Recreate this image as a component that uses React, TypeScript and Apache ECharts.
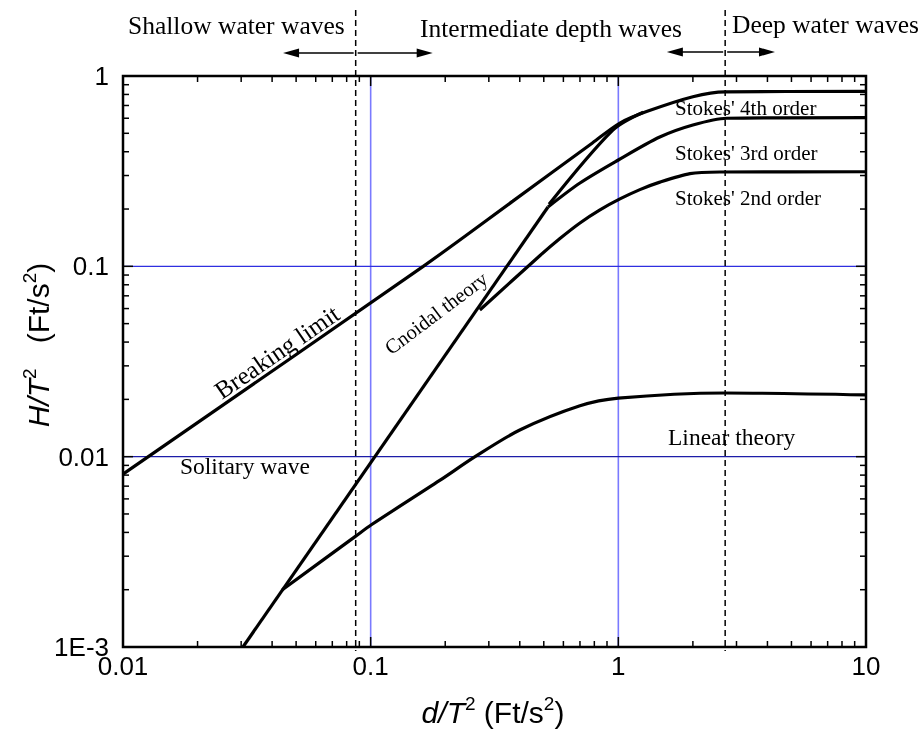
import React, { useEffect, useRef } from "react";
import * as echarts from "echarts";

// ---- axis tick labels ----
const xTickLabels = ["0.01", "0.1", "1", "10"];
const yTickLabels = ["1E-3", "0.01", "0.1", "1"];

// ---- curves [d/T^2, H/T^2] ----
const breakingLimit = [
  [0.01, 0.0081], [0.163, 0.1], [0.375, 0.22], [0.786, 0.445],
  [1.015, 0.566], [1.3, 0.65], [2.0, 0.778], [2.7, 0.826], [10, 0.83],
];
const cnoidalLower = [[0.0305, 0.001], [0.52, 0.205]];
const cnoidalUpper = [[0.525, 0.212], [0.95, 0.52], [1.26, 0.645]];
const stokes3 = [
  [0.52, 0.205], [0.7, 0.274], [1.0, 0.362], [1.47, 0.478], [2.0, 0.553], [2.74, 0.6], [10, 0.605],
];
const stokes2 = [
  [0.276, 0.059], [0.483, 0.114], [0.581, 0.14], [0.7, 0.169], [0.843, 0.198], [1.015, 0.226],
  [1.222, 0.253], [1.472, 0.277], [1.946, 0.307], [2.57, 0.313], [10, 0.314],
];
const linearCurve = [
  [0.044, 0.002], [0.0865, 0.0038], [0.101, 0.0044], [0.19, 0.0075], [0.264, 0.01], [0.4, 0.0138],
  [0.7, 0.0185], [1.0, 0.0203], [2.7, 0.0216], [10, 0.0211],
];

// ---- annotations ----
const regionBoundaries = [0.087, 2.7];
const shallowArrows = [[0.087, 0.0443], [0.087, 0.178]];
const deepArrows = [[2.7, 1.57], [2.7, 4.29]];
const xGridValues = [0.1, 1];
const yGridValues = [0.1, 0.01];

const serif = "Liberation Serif";
const sans = "Liberation Sans";

export default function App() {
  const ref = useRef<HTMLDivElement>(null);
  useEffect(() => {
    const chart = echarts.init(ref.current!, null, { renderer: "svg" });
    const line = (name: string, data: number[][], smooth: number) => ({
      type: "line",
      name,
      data,
      symbol: "none",
      smooth,
      clip: false,
      z: 3,
      lineStyle: { color: "#000", width: 3.2 },
    });
    const fmtX = (v: number) => xTickLabels[Math.round(Math.log10(v)) + 2];
    const fmtY = (v: number) => yTickLabels[Math.round(Math.log10(v)) + 3];
    chart.setOption({
      animation: false,
      grid: { left: 123, right: 58, top: 76, bottom: 93 },
      xAxis: {
        type: "log", logBase: 10, min: 0.01, max: 10,
        axisLine: { show: false }, axisTick: { show: false }, splitLine: { show: false },
        axisLabel: { formatter: fmtX, fontFamily: sans, fontSize: 26, color: "#000", margin: 6, showMinLabel: true, showMaxLabel: true },
      },
      yAxis: {
        type: "log", logBase: 10, min: 0.001, max: 1,
        axisLine: { show: false }, axisTick: { show: false }, splitLine: { show: false },
        axisLabel: { formatter: fmtY, fontFamily: sans, fontSize: 26, color: "#000", margin: 14, showMinLabel: true, showMaxLabel: true },
      },
      series: [
        line("Breaking limit", breakingLimit, 0.3),
        line("Cnoidal theory", cnoidalLower, 0),
        line("Cnoidal upper", cnoidalUpper, 0.3),
        line("Stokes' 3rd order", stokes3, 0.3),
        line("Stokes' 2nd order", stokes2, 0.25),
        line("Linear theory", linearCurve, 0.3),
      ],
    });

    const P = (x: number, y: number) => chart.convertToPixel({ gridIndex: 0 }, [x, y]) as number[];
    const [L, B] = P(0.01, 0.001);
    const [R, T] = P(10, 1);
    const g: any[] = [];
    const seg = (x1: number, y1: number, x2: number, y2: number, stroke: string, w: number, z: number, dash?: number[]) =>
      g.push({ type: "line", z, silent: true, shape: { x1, y1, x2, y2 }, style: { stroke, lineWidth: w, lineDash: dash } });

    // grid lines
    xGridValues.forEach((v) => { const x = P(v, 1)[0]; seg(x, T, x, B, "#7a7aff", 1.6, 1); });
    yGridValues.forEach((v, i) => { const y = P(0.01, v)[1]; seg(L, y, R, y, i === 0 ? "#2f2fe0" : "#1c1ca8", 1.2, 1); });

    // ticks on four sides
    for (let e = -2; e <= 1; e++) {
      for (let k = 1; k <= 9; k++) {
        const v = k * Math.pow(10, e);
        if (v < 0.01 - 1e-12 || v > 10 + 1e-9) continue;
        const x = P(v, 1)[0];
        const len = k === 1 ? 10 : 6;
        seg(x, B, x, B - len, "#000", 1.5, 5);
        seg(x, T, x, T + len, "#000", 1.5, 5);
      }
    }
    for (let e = -3; e <= 0; e++) {
      for (let k = 1; k <= 9; k++) {
        const v = k * Math.pow(10, e);
        if (v < 0.001 - 1e-12 || v > 1 + 1e-9) continue;
        const y = P(0.01, v)[1];
        const len = k === 1 ? 10 : 6;
        seg(L, y, L + len, y, "#000", 1.5, 5);
        seg(R, y, R - len, y, "#000", 1.5, 5);
      }
    }
    // frame
    g.push({ type: "rect", z: 6, silent: true, shape: { x: L, y: T, width: R - L, height: B - T }, style: { fill: "none", stroke: "#000", lineWidth: 2.5 } });

    // region boundaries (dashed)
    regionBoundaries.forEach((v) => { const x = P(v, 1)[0]; seg(x, 10, x, B + 4, "#000", 1.5, 4, [6, 4]); });

    // arrows
    const arrow = (from: number, to: number, y: number) => {
      const x1 = P(from, 1)[0] + (to > from ? 2 : -2);
      const x2 = P(to, 1)[0];
      const dir = x2 > x1 ? 1 : -1;
      seg(x1, y, x2 - dir * 10, y, "#000", 1.5, 4);
      g.push({ type: "polygon", z: 4, silent: true, shape: { points: [[x2, y], [x2 - dir * 16, y - 4.5], [x2 - dir * 16, y + 4.5]] }, style: { fill: "#000" } });
    };
    shallowArrows.forEach(([a, b]) => arrow(a, b, 53));
    deepArrows.forEach(([a, b]) => arrow(a, b, 52));

    const txt = (text: string, x: number, y: number, size: number, align = "left", rot = 0, family = serif) =>
      g.push({ type: "text", z: 7, silent: true, x, y, rotation: rot, style: { text, fontFamily: family, fontSize: size, fill: "#000", align, verticalAlign: "middle" } });

    txt("Shallow water waves", 128, 25, 25.5);
    txt("Intermediate depth waves", 551, 28, 25.5, "center");
    txt("Deep water waves", 732, 24, 25.5);
    txt("Stokes' 4th order", 675, 108, 21);
    txt("Stokes' 3rd order", 675, 153, 21);
    txt("Stokes' 2nd order", 675, 198, 21);
    txt("Linear theory", 668, 437, 23.5);
    txt("Solitary wave", 180, 466, 23.5);
    txt("Breaking limit", 277, 352, 25, "center", (34.5 * Math.PI) / 180);
    txt("Cnoidal theory", 436, 313, 20.5, "center", (37 * Math.PI) / 180);

    // axis titles
    const richT = {
      i: { fontFamily: sans, fontSize: 30, fontStyle: "italic", lineHeight: 36, fill: "#000" },
      n: { fontFamily: sans, fontSize: 30, lineHeight: 36, fill: "#000" },
      s: { fontFamily: sans, fontSize: 19, lineHeight: 20, verticalAlign: "top", fill: "#000" },
    };
    g.push({ type: "text", z: 7, silent: true, x: 493, y: 712, style: { text: "{i|d/T}{s|2}{n| (Ft/s}{s|2}{n|)}", rich: richT, align: "center", verticalAlign: "middle" } });
    g.push({ type: "text", z: 7, silent: true, x: 38, y: 345, rotation: Math.PI / 2, style: { text: "{i|H/T}{s|2}{n|   (Ft/s}{s|2}{n|)}", rich: richT, align: "center", verticalAlign: "middle" } });

    chart.setOption({ graphic: g });
    return () => chart.dispose();
  }, []);
  return <div ref={ref} style={{ position: "fixed", left: 0, top: 0, width: 924, height: 740 }} />;
}
